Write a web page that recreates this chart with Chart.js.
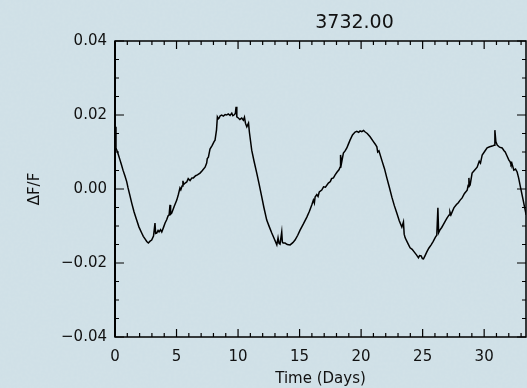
<!DOCTYPE html>
<html><head><meta charset="utf-8">
<script src="https://cdn.jsdelivr.net/npm/chart.js@4"></script>
<style>
html,body{margin:0;padding:0;overflow:hidden;background-color:#cedfe6;}
#wrap{width:527px;height:388px;position:relative;background-color:#cedfe6;
background-image:url("data:image/svg+xml;utf8,<svg xmlns='http://www.w3.org/2000/svg' width='527' height='388'><filter id='n'><feTurbulence type='fractalNoise' baseFrequency='0.35' numOctaves='3' seed='4'/><feColorMatrix values='0 0 0 0 1  0 0 0 0 1  0 0 0 0 1  0 0 0 0.09 0'/></filter><rect width='100%' height='100%' filter='url(%23n)'/></svg>");}
</style>
</head><body><div id="wrap"><canvas id="c" width="527" height="388"></canvas></div>
<script>
const titleText = '3732.00';
const xTitle = 'Time (Days)';
const yTitle = 'ΔF/F';
const xMin = 0, xMax = 33.4;
const yMin = -0.04, yMax = 0.04;
const xTickValues = [0, 5, 10, 15, 20, 25, 30];
const xTickLabels = ['0', '5', '10', '15', '20', '25', '30'];
const yTickValues = [-0.04, -0.02, 0, 0.02, 0.04];
const yTickLabels = ['\u22120.04', '\u22120.02', '0.00', '0.02', '0.04'];

const days = [0.00,0.08,0.25,0.41,0.50,0.65,0.81,0.95,1.06,1.20,1.36,1.55,1.76,1.95,2.17,2.30,2.44,2.58,2.71,2.85,2.98,3.13,3.25,3.30,3.39,3.50,3.58,3.70,3.80,3.95,4.07,4.20,4.31,4.40,4.47,4.52,4.61,4.80,5.02,5.15,5.28,5.35,5.45,5.52,5.58,5.70,5.83,5.95,6.10,6.25,6.37,6.55,6.70,6.91,7.10,7.32,7.45,7.50,7.59,7.72,7.90,8.05,8.13,8.25,8.32,8.40,8.46,8.55,8.67,8.80,8.95,9.08,9.20,9.35,9.49,9.58,9.67,9.78,9.84,9.90,10.02,10.15,10.30,10.43,10.52,10.60,10.71,10.85,10.92,11.11,11.30,11.52,11.70,11.93,12.10,12.33,12.55,12.74,12.95,13.15,13.25,13.33,13.41,13.55,13.60,13.66,13.82,14.00,14.23,14.45,14.63,14.85,15.04,15.30,15.59,15.80,15.99,16.12,16.20,16.26,16.40,16.50,16.60,16.80,16.95,17.10,17.34,17.50,17.60,17.75,17.89,18.05,18.20,18.29,18.33,18.41,18.56,18.70,18.84,18.95,19.10,19.30,19.51,19.65,19.80,19.92,20.05,20.20,20.33,20.50,20.73,21.00,21.15,21.28,21.35,21.45,21.68,21.90,22.09,22.30,22.50,22.70,22.90,23.10,23.31,23.44,23.50,23.58,23.80,23.98,24.15,24.31,24.50,24.66,24.75,24.88,24.98,25.07,25.20,25.34,25.50,25.69,25.85,26.04,26.15,26.24,26.30,26.40,26.55,26.67,26.85,26.99,27.15,27.22,27.30,27.54,27.75,27.90,28.05,28.21,28.40,28.62,28.70,28.76,28.80,28.86,29.02,29.20,29.43,29.60,29.70,29.84,30.05,30.24,30.45,30.65,30.80,30.87,30.95,31.06,31.25,31.46,31.60,31.71,31.85,32.01,32.10,32.18,32.25,32.41,32.55,32.68,32.80,32.95,33.17,33.41];
const flux = [0.0168,0.0111,0.0095,0.0078,0.0068,0.0051,0.0035,0.0020,0.0003,-0.0016,-0.0038,-0.0062,-0.0084,-0.0103,-0.0119,-0.0128,-0.0135,-0.0142,-0.0146,-0.0141,-0.0138,-0.0127,-0.0092,-0.0120,-0.0119,-0.0112,-0.0116,-0.0110,-0.0116,-0.0103,-0.0092,-0.0083,-0.0073,-0.0070,-0.0043,-0.0068,-0.0065,-0.0048,-0.0030,-0.0015,0.0003,-0.0002,0.0008,0.0022,0.0012,0.0016,0.0019,0.0028,0.0023,0.0030,0.0030,0.0036,0.0038,0.0043,0.0050,0.0059,0.0070,0.0082,0.0086,0.0108,0.0118,0.0128,0.0132,0.0160,0.0195,0.0190,0.0192,0.0198,0.0200,0.0197,0.0201,0.0200,0.0203,0.0199,0.0205,0.0198,0.0200,0.0204,0.0222,0.0195,0.0192,0.0188,0.0192,0.0186,0.0194,0.0178,0.0168,0.0178,0.0154,0.0105,0.0075,0.0043,0.0015,-0.0022,-0.0050,-0.0084,-0.0103,-0.0119,-0.0135,-0.0151,-0.0132,-0.0147,-0.0149,-0.0116,-0.0143,-0.0146,-0.0146,-0.0150,-0.0151,-0.0145,-0.0138,-0.0125,-0.0111,-0.0095,-0.0076,-0.0060,-0.0043,-0.0030,-0.0038,-0.0022,-0.0015,-0.0020,-0.0008,-0.0003,0.0006,0.0005,0.0016,0.0020,0.0028,0.0030,0.0038,0.0046,0.0052,0.0059,0.0092,0.0070,0.0097,0.0103,0.0111,0.0120,0.0132,0.0146,0.0154,0.0156,0.0153,0.0157,0.0155,0.0158,0.0154,0.0150,0.0141,0.0128,0.0121,0.0114,0.0100,0.0103,0.0078,0.0055,0.0030,0.0004,-0.0022,-0.0045,-0.0065,-0.0086,-0.0103,-0.0089,-0.0122,-0.0132,-0.0147,-0.0159,-0.0163,-0.0170,-0.0178,-0.0186,-0.0180,-0.0181,-0.0188,-0.0189,-0.0180,-0.0170,-0.0160,-0.0151,-0.0142,-0.0130,-0.0125,-0.0051,-0.0118,-0.0111,-0.0104,-0.0097,-0.0086,-0.0078,-0.0070,-0.0062,-0.0070,-0.0051,-0.0042,-0.0037,-0.0030,-0.0024,-0.0012,-0.0003,0.0010,0.0030,0.0008,0.0011,0.0043,0.0050,0.0059,0.0075,0.0070,0.0092,0.0102,0.0111,0.0114,0.0116,0.0118,0.0159,0.0128,0.0119,0.0113,0.0111,0.0104,0.0100,0.0090,0.0078,0.0074,0.0066,0.0070,0.0051,0.0054,0.0046,0.0030,0.0005,-0.0030,-0.0070];

const FONT = 'DejaVu Sans';
const TXT = '#111';

const frame = {
  id: 'frame',
  afterDraw(chart) {
    const ctx = chart.ctx, a = chart.chartArea;
    const xs = chart.scales.x, ys = chart.scales.y;
    ctx.save();
    ctx.strokeStyle = '#000';
    ctx.lineWidth = 1.5;
    ctx.strokeRect(a.left, a.top, a.right - a.left, a.bottom - a.top);
    ctx.lineWidth = 2;
    ctx.beginPath(); ctx.moveTo(a.left, a.top); ctx.lineTo(a.left, a.bottom); ctx.stroke();
    ctx.lineWidth = 1.2;
    ctx.beginPath();
    for (let d = 0; d <= Math.floor(xMax); d++) {
      const px = xs.getPixelForValue(d);
      const len = d % 5 === 0 ? 8 : 4;
      ctx.moveTo(px, a.bottom); ctx.lineTo(px, a.bottom - len);
      ctx.moveTo(px, a.top); ctx.lineTo(px, a.top + len);
    }
    for (let i = 0; i <= 16; i++) {
      const v = yMin + i * 0.005;
      const py = ys.getPixelForValue(v);
      const len = i % 4 === 0 ? 9 : 4;
      ctx.moveTo(a.left, py); ctx.lineTo(a.left + len, py);
      ctx.moveTo(a.right, py); ctx.lineTo(a.right - len, py);
    }
    ctx.stroke();
    ctx.fillStyle = TXT;
    ctx.font = '19px "' + FONT + '"';
    ctx.textAlign = 'center';
    ctx.textBaseline = 'middle';
    ctx.fillText(titleText, (a.left + a.right) / 2 + 34, a.top - 18);
    ctx.restore();
  }
};

new Chart(document.getElementById('c'), {
  type: 'line',
  data: {
    datasets: [{
      data: days.map((d, i) => ({x: d, y: flux[i]})),
      borderColor: '#000',
      borderWidth: 1.5,
      pointRadius: 0,
      tension: 0,
      fill: false
    }]
  },
  options: {
    responsive: false,
    devicePixelRatio: 1,
    animation: false,
    layout: {padding: {left: 14, right: 1, top: 41, bottom: 0}},
    plugins: {legend: {display: false}, tooltip: {enabled: false}, title: {display: false}},
    scales: {
      x: {
        type: 'linear', min: xMin, max: xMax,
        afterBuildTicks: s => { s.ticks = xTickValues.map(v => ({value: v})); },
        afterFit: s => { s.height = 51; },
        ticks: {
          callback: v => { const i = xTickValues.indexOf(v); return i >= 0 ? xTickLabels[i] : ''; },
          font: {family: FONT, size: 15}, color: TXT, padding: 11, maxRotation: 0, autoSkip: false
        },
        grid: {display: false, drawTicks: false},
        border: {display: false},
        title: {display: true, text: xTitle, font: {family: FONT, size: 15}, color: TXT, padding: {top: 0, bottom: 0}}
      },
      y: {
        type: 'linear', min: yMin, max: yMax,
        afterBuildTicks: s => { s.ticks = yTickValues.map(v => ({value: v})); },
        afterFit: s => { s.width = 101; },
        ticks: {
          callback: v => { const i = yTickValues.findIndex(t => Math.abs(t - v) < 1e-9); return i >= 0 ? yTickLabels[i] : ''; },
          font: {family: FONT, size: 15}, color: TXT, padding: 8, autoSkip: false
        },
        grid: {display: false, drawTicks: false},
        border: {display: false},
        title: {display: true, text: yTitle, font: {family: FONT, size: 15}, color: TXT, padding: {top: 12, bottom: 0}}
      }
    }
  },
  plugins: [frame]
});
</script></body></html>
